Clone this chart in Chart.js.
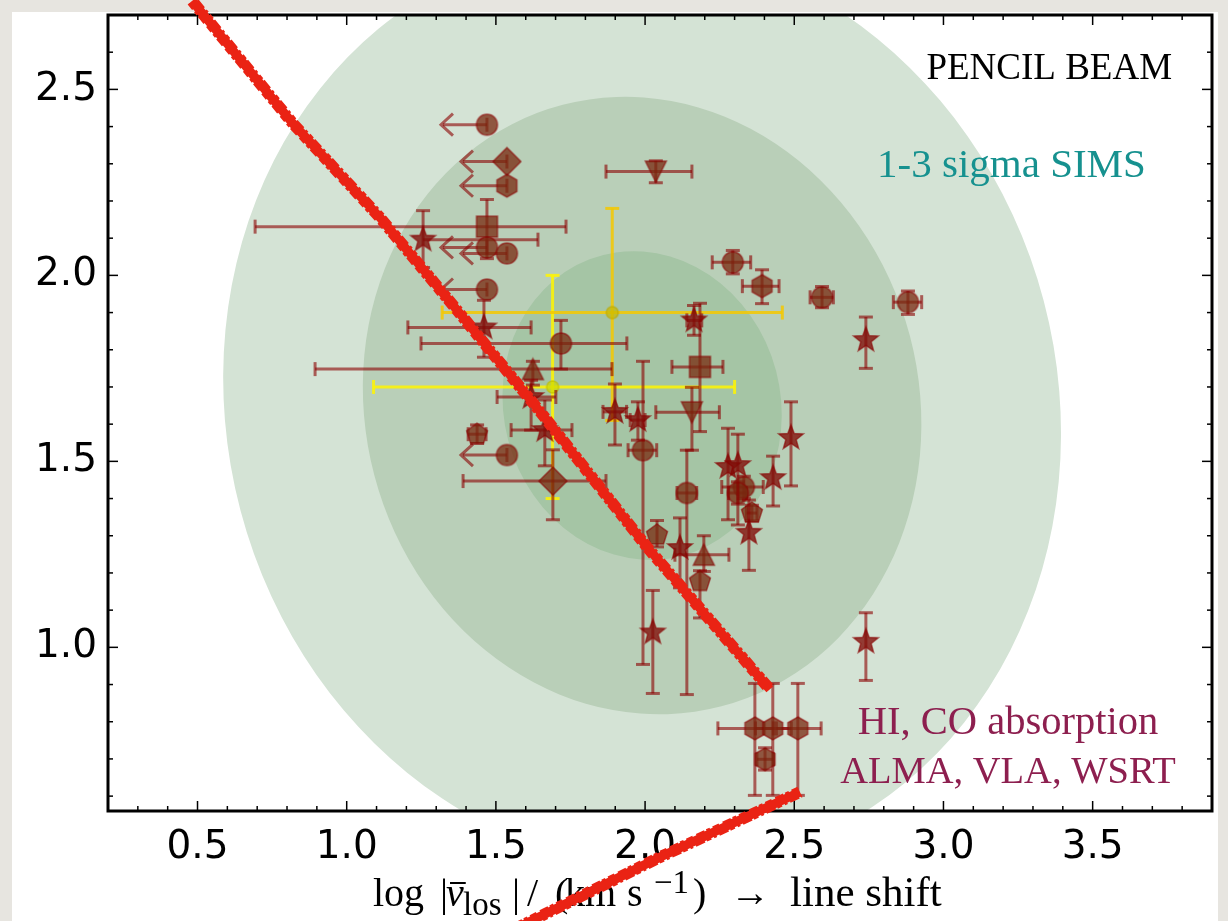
<!DOCTYPE html>
<html lang="en">
<head>
<meta charset="UTF-8">
<title>Pencil beam: line shift</title>
<script src="https://cdn.jsdelivr.net/npm/chart.js"></script>
<style>
    html, body { margin: 0; padding: 0; background: #e7e5e0; overflow: hidden; }
    #sheet { position: absolute; left: 12px; top: 12px; width: 1206px; height: 909px; background: #fff; }
    #plot { position: absolute; left: 0; top: 0; }
</style>
</head>
<body>
<div id="sheet"></div>
<canvas id="plot" width="1228" height="921"></canvas>
<script>
// axis ranges and tick labels
const xRange = [0.2, 3.9];
const yRange = [0.56, 2.7];
const xTicks = [0.5, 1.0, 1.5, 2.0, 2.5, 3.0, 3.5];
const yTicks = [1.0, 1.5, 2.0, 2.5];

// SIMS distribution: centre, sigma (x, y), correlation, contour levels
const simsCentre = [1.99, 1.65];
const simsSigma = [0.468, 0.415];
const simsRho = -0.06;
const simsLevels = [3, 2, 1];

// measurements: [x, y, xLow, xHigh, yLow, yHigh]  (null = no bar on that side)
const yellowPoints = [[1.69, 1.70, 1.09, 2.30, 1.40, 2.00]];
const goldPoints = [[1.89, 1.90, 1.32, 2.46, 1.61, 2.18]];

const squares = [
    [1.470, 2.131, 0.693, 1.735, 2.045, 2.204],
    [2.184, 1.754, 2.090, 2.261, 1.580, 1.925]
];
const circles = [
    [1.718, 1.817, 1.249, 1.939, 1.748, 1.879],
    [2.294, 2.035, 2.225, 2.354, 2.004, 2.067],
    [2.593, 1.941, 2.553, 2.631, 1.913, 1.970],
    [2.881, 1.928, 2.832, 2.927, 1.895, 1.958],
    [1.993, 1.530, 1.943, 2.039, 0.954, 1.769],
    [2.140, 1.415, 2.107, 2.173, 0.873, 1.530],
    [2.331, 1.431, 2.257, 2.396, 1.400, 1.460],
    [2.311, 1.415, 2.280, 2.340, 1.385, 1.445]
];
const diamonds = [[1.691, 1.447, 1.390, 1.869, 1.343, 1.531]];
const hexagons = [
    [2.392, 1.971, 2.326, 2.449, 1.924, 2.015],
    [2.368, 0.782, 2.244, 2.430, 0.602, 0.903],
    [2.428, 0.782, 2.370, 2.490, 0.602, 0.903],
    [2.512, 0.782, 2.440, 2.590, 0.602, 0.903],
    [2.402, 0.699, 2.375, 2.430, 0.670, 0.730]
];
const trianglesUp = [
    [1.624, 1.748, 0.894, 1.889, 1.705, 1.769],
    [2.197, 1.249, 2.100, 2.281, 1.204, 1.300]
];
const trianglesDown = [
    [2.036, 2.279, 1.869, 2.157, 2.249, 2.308],
    [2.157, 1.632, 2.036, 2.249, 1.530, 1.699]
];
const pentagons = [
    [1.437, 1.573, 1.407, 1.467, 1.548, 1.598],
    [2.040, 1.302, null, null, 1.270, 1.341],
    [2.184, 1.177, null, null, 1.079, 1.206],
    [2.358, 1.361, 2.340, 2.375, 1.340, 1.382]
];
const stars = [
    [1.256, 2.096, null, 1.641, 2.021, 2.174],
    [1.460, 1.860, 1.205, 1.618, 1.780, 1.933],
    [1.618, 1.673, 1.504, 1.701, 1.584, 1.718],
    [1.664, 1.584, 1.551, 1.755, 1.488, 1.665],
    [2.740, 1.826, null, null, 1.750, 1.888],
    [2.164, 1.879, 2.140, 2.190, 1.839, 1.919],
    [1.899, 1.633, 1.859, 1.938, 1.544, 1.708],
    [1.976, 1.611, 1.950, 2.000, 1.557, 1.660],
    [2.117, 1.267, null, null, 1.160, 1.348],
    [2.026, 1.040, null, null, 0.876, 1.153],
    [2.278, 1.485, null, null, 1.343, 1.589],
    [2.311, 1.490, null, null, 1.329, 1.573],
    [2.429, 1.455, null, null, 1.380, 1.514],
    [2.489, 1.563, null, null, 1.434, 1.660],
    [2.348, 1.308, null, null, 1.207, 1.396],
    [2.740, 1.015, null, null, 0.911, 1.093]
];

// upper limits on the shift: [x, y, arrow tip x]
const circleLimits = [
    [1.470, 2.405, 1.316],
    [1.470, 2.075, 1.316],
    [1.537, 2.059, 1.383],
    [1.470, 1.962, 1.316],
    [1.537, 1.517, 1.383]
];
const diamondLimits = [[1.537, 2.306, 1.383]];
const hexagonLimits = [[1.537, 2.241, 1.383]];

// hand-drawn strike marks (data units)
const strikeA = [[0.482, 2.738], [0.820, 2.408], [1.112, 2.155], [1.390, 1.887], [1.658, 1.624], [2.006, 1.270], [2.418, 0.887]];
const strikeB = [[2.519, 0.611], [2.050, 0.436], [1.564, 0.243]];

const RED = 'rgba(139,0,0,0.6)';
const BROWN = 'rgba(120,40,15,0.75)';
const CAP = 7;

function shapeCanvas(shape, r, fill, edge) {
    const s = Math.ceil(2 * r + 6);
    const c = document.createElement('canvas');
    c.width = s; c.height = s;
    const g = c.getContext('2d');
    g.translate(s / 2, s / 2);
    g.beginPath();
    const poly = (n, r1, r2) => {
        for (let i = 0; i < n; i++) {
            const a = -Math.PI / 2 + i * 2 * Math.PI / n;
            const rr = (r2 && i % 2) ? r2 : r1;
            if (i) g.lineTo(rr * Math.cos(a), rr * Math.sin(a));
            else g.moveTo(rr * Math.cos(a), rr * Math.sin(a));
        }
        g.closePath();
    };
    switch (shape) {
        case 'circle': g.arc(0, 0, r, 0, 2 * Math.PI); break;
        case 'square': g.rect(-r, -r, 2 * r, 2 * r); break;
        case 'diamond': poly(4, r); break;
        case 'triangle': g.moveTo(0, -r); g.lineTo(r, r); g.lineTo(-r, r); g.closePath(); break;
        case 'triangleDown': g.moveTo(0, r); g.lineTo(r, -r); g.lineTo(-r, -r); g.closePath(); break;
        case 'pentagon': poly(5, r); break;
        case 'hexagon': poly(6, r); break;
        case 'star': poly(10, r, r * 0.42); break;
    }
    g.fillStyle = fill; g.fill();
    g.lineWidth = 1.5; g.strokeStyle = edge; g.stroke();
    return c;
}

// draw order: first entry at the bottom
const groups = [
    { rows: yellowPoints, shape: 'circle', r: 6, fill: 'rgba(205,215,0,0.7)', edge: 'rgba(190,190,0,0.7)', bar: 'rgba(255,244,0,0.85)' },
    { rows: goldPoints, shape: 'circle', r: 6, fill: 'rgba(200,185,0,0.7)', edge: 'rgba(190,170,0,0.7)', bar: 'rgba(245,200,0,0.85)' },
    { rows: squares, shape: 'square', r: 10.5, fill: BROWN, edge: RED, bar: RED },
    { rows: circles, shape: 'circle', r: 10.5, fill: BROWN, edge: RED, bar: RED },
    { rows: diamonds, shape: 'diamond', r: 14, fill: BROWN, edge: RED, bar: RED },
    { rows: hexagons, shape: 'hexagon', r: 11.5, fill: BROWN, edge: RED, bar: RED },
    { rows: trianglesUp, shape: 'triangle', r: 10.5, fill: BROWN, edge: RED, bar: RED },
    { rows: trianglesDown, shape: 'triangleDown', r: 10.5, fill: BROWN, edge: RED, bar: RED },
    { rows: pentagons, shape: 'pentagon', r: 11, fill: BROWN, edge: RED, bar: RED },
    { rows: stars, shape: 'star', r: 13, fill: 'rgba(128,12,6,0.78)', edge: RED, bar: RED },
    { limits: circleLimits, shape: 'circle', r: 10.5, fill: BROWN, edge: RED, bar: RED },
    { limits: diamondLimits, shape: 'diamond', r: 14, fill: BROWN, edge: RED, bar: RED },
    { limits: hexagonLimits, shape: 'hexagon', r: 11.5, fill: BROWN, edge: RED, bar: RED }
];

const datasets = groups.map((g, i) => ({
    data: (g.rows || g.limits).map(r => ({ x: r[0], y: r[1] })),
    pointStyle: shapeCanvas(g.shape, g.r, g.fill, g.edge),
    pointRadius: g.r,
    showLine: false,
    order: 100 - i,
    errs: g.rows || null,
    limits: g.limits || null,
    barColour: g.bar
}));

function seg(ctx, x1, y1, x2, y2) {
    ctx.beginPath(); ctx.moveTo(x1, y1); ctx.lineTo(x2, y2); ctx.stroke();
}

const sims = {
    id: 'sims',
    beforeDatasetsDraw(chart) {
        const { ctx, chartArea: a, scales: { x, y } } = chart;
        const colours = ['#d4e3d5', '#b9cfb8', '#a5c5a5'];
        const sxx = simsSigma[0] ** 2, syy = simsSigma[1] ** 2;
        const sxy = simsRho * simsSigma[0] * simsSigma[1];
        const mid = (sxx + syy) / 2, d = Math.sqrt(((sxx - syy) / 2) ** 2 + sxy ** 2);
        const ang = 0.5 * Math.atan2(2 * sxy, sxx - syy);
        const cx = x.getPixelForValue(simsCentre[0]), cy = y.getPixelForValue(simsCentre[1]);
        const kx = x.getPixelForValue(simsCentre[0] + 1) - cx;
        const ky = y.getPixelForValue(simsCentre[1] + 1) - cy;
        ctx.save();
        ctx.beginPath(); ctx.rect(a.left, a.top, a.right - a.left, a.bottom - a.top); ctx.clip();
        simsLevels.forEach((n, i) => {
            ctx.save();
            ctx.translate(cx, cy);
            ctx.scale(kx, ky);
            ctx.beginPath();
            ctx.ellipse(0, 0, n * Math.sqrt(mid + d), n * Math.sqrt(mid - d), ang, 0, 2 * Math.PI);
            ctx.restore();
            ctx.fillStyle = colours[i];
            ctx.fill();
        });
        ctx.restore();
    }
};

const errorBars = {
    id: 'errorBars',
    beforeDatasetDraw(chart, args) {
        const ds = chart.data.datasets[args.index];
        const { ctx, chartArea: a, scales: { x, y } } = chart;
        ctx.save();
        ctx.beginPath(); ctx.rect(a.left, a.top, a.right - a.left, a.bottom - a.top); ctx.clip();
        ctx.strokeStyle = ds.barColour;
        ctx.lineWidth = 3;
        (ds.errs || []).forEach(([vx, vy, xl, xh, yl, yh]) => {
            const px = x.getPixelForValue(vx), py = y.getPixelForValue(vy);
            if (xl !== null || xh !== null) {
                const l = x.getPixelForValue(xl ?? vx), r = x.getPixelForValue(xh ?? vx);
                seg(ctx, l, py, r, py);
                if (xl !== null) seg(ctx, l, py - CAP, l, py + CAP);
                if (xh !== null) seg(ctx, r, py - CAP, r, py + CAP);
            }
            if (yl !== null || yh !== null) {
                const b = y.getPixelForValue(yl ?? vy), t = y.getPixelForValue(yh ?? vy);
                seg(ctx, px, b, px, t);
                if (yl !== null) seg(ctx, px - CAP, b, px + CAP, b);
                if (yh !== null) seg(ctx, px - CAP, t, px + CAP, t);
            }
        });
        (ds.limits || []).forEach(([vx, vy, tip]) => {
            const px = x.getPixelForValue(vx), py = y.getPixelForValue(vy);
            const tx = x.getPixelForValue(tip);
            seg(ctx, tx + 2, py, px, py);
            seg(ctx, px, py - CAP, px, py + CAP);
            ctx.beginPath();
            ctx.moveTo(tx + 12, py - 11); ctx.lineTo(tx, py); ctx.lineTo(tx + 12, py + 11);
            ctx.stroke();
        });
        ctx.restore();
    }
};

function roughStroke(ctx, pts) {
    const [x0, y0] = pts[0], [x1, y1] = pts[pts.length - 1];
    const len = Math.hypot(x1 - x0, y1 - y0);
    const nx = -(y1 - y0) / len, ny = (x1 - x0) / len;
    const path = off => {
        ctx.beginPath();
        pts.forEach(([px, py], i) => {
            const X = px + nx * off, Y = py + ny * off;
            if (i) ctx.lineTo(X, Y); else ctx.moveTo(X, Y);
        });
        ctx.stroke();
    };
    ctx.strokeStyle = '#ea2314';
    ctx.lineJoin = 'round';
    ctx.lineCap = 'butt';
    ctx.lineWidth = 9; ctx.setLineDash([]); path(0);
    ctx.lineWidth = 2.5;
    ctx.setLineDash([7, 3, 4, 2, 9, 4]); path(4.6);
    ctx.setLineDash([5, 2, 10, 3, 3, 3]); ctx.lineDashOffset = 4; path(-4.6);
    ctx.setLineDash([]); ctx.lineDashOffset = 0;
}

// x-axis title, typeset piece by piece: [text, x offset, font size, italic, baseline shift]
const xTitle = [
    ['log', 0, 40, false, 0],
    ['|', 67, 40, false, 0],
    ['v', 73, 40, true, 0],
    ['los', 90, 33, false, 9],
    ['|', 139, 40, false, 0],
    ['/', 154, 40, false, 0],
    ['(', 182, 40, false, 0],
    ['km', 192, 40, false, 0],
    ['s', 254, 40, false, 0],
    ['\u22121', 281, 33, false, -13],
    [')', 320, 40, false, 0],
    ['\u2192', 357, 40, false, 0],
    ['line shift', 417, 43, false, 0]
];

function drawXLabel(ctx, left, base) {
    ctx.fillStyle = '#000';
    ctx.textAlign = 'left';
    ctx.textBaseline = 'alphabetic';
    xTitle.forEach(([t, dx, size, italic, dy]) => {
        ctx.font = (italic ? 'italic ' : '') + size + 'px "Liberation Serif", serif';
        ctx.fillText(t, left + dx, base + dy);
        if (italic) {
            // bar over the v
            const w = ctx.measureText(t).width;
            ctx.fillRect(left + dx + 4, base - 24, w - 2, 2);
        }
    });
}

const frame = {
    id: 'frame',
    afterDraw(chart) {
        const { ctx, chartArea: a, scales: { x, y } } = chart;
        ctx.save();
        ctx.strokeStyle = '#000';
        // inward ticks on all four sides
        ctx.lineWidth = 1.5;
        for (let k = Math.ceil(xRange[0] * 10); k <= Math.floor(xRange[1] * 10); k++) {
            const px = x.getPixelForValue(k / 10), len = k % 5 === 0 ? 10 : 5;
            seg(ctx, px, a.bottom, px, a.bottom - len);
            seg(ctx, px, a.top, px, a.top + len);
        }
        for (let k = Math.ceil(yRange[0] * 10); k <= Math.floor(yRange[1] * 10); k++) {
            const py = y.getPixelForValue(k / 10), len = k % 5 === 0 ? 10 : 5;
            seg(ctx, a.left, py, a.left + len, py);
            seg(ctx, a.right, py, a.right - len, py);
        }
        ctx.lineWidth = 3;
        ctx.strokeRect(a.left, a.top, a.right - a.left, a.bottom - a.top);

        const w = a.right - a.left, h = a.bottom - a.top;
        ctx.textBaseline = 'alphabetic';
        ctx.fillStyle = '#000';
        ctx.font = '37px "Liberation Serif", serif';
        ctx.textAlign = 'right';
        ctx.fillText('PENCIL BEAM', a.left + 0.9638 * w, a.top + 0.0803 * h);

        ctx.fillStyle = '#16918f';
        ctx.font = '41px "Liberation Serif", serif';
        ctx.textAlign = 'left';
        ctx.fillText('1-3 sigma SIMS', a.left + 0.6966 * w, a.top + 0.2033 * h);

        ctx.fillStyle = '#8d1f4f';
        ctx.textAlign = 'center';
        ctx.font = '40.5px "Liberation Serif", serif';
        ctx.fillText('HI, CO absorption', a.left + 0.8152 * w, a.top + 0.9034 * h);
        ctx.font = '38.5px "Liberation Serif", serif';
        ctx.fillText('ALMA, VLA, WSRT', a.left + 0.8152 * w, a.top + 0.9649 * h);

        drawXLabel(ctx, 373, 906);

        roughStroke(ctx, strikeA.map(([vx, vy]) => [x.getPixelForValue(vx), y.getPixelForValue(vy)]));
        roughStroke(ctx, strikeB.map(([vx, vy]) => [x.getPixelForValue(vx), y.getPixelForValue(vy)]));
        ctx.restore();
    }
};

const tickFont = { family: 'DejaVu Sans', size: 39 };

// keep the plot box fixed: no extra room for half-height edge labels
function fixBox(s, size) {
    if (s.isHorizontal()) s.height = size; else s.width = size;
    s.paddingTop = 0; s.paddingBottom = 0; s.paddingLeft = 0; s.paddingRight = 0;
}

new Chart(document.getElementById('plot'), {
    type: 'scatter',
    data: { datasets },
    options: {
        responsive: false,
        animation: false,
        devicePixelRatio: 1,
        events: [],
        layout: { padding: { top: 14, right: 16, left: 0, bottom: 0 } },
        plugins: { legend: { display: false }, tooltip: { enabled: false } },
        scales: {
            x: {
                type: 'linear', min: xRange[0], max: xRange[1],
                grid: { display: false, drawTicks: false }, border: { display: false },
                afterBuildTicks: s => { s.ticks = xTicks.map(v => ({ value: v })); },
                afterFit: s => fixBox(s, 110),
                ticks: { font: tickFont, color: '#000', padding: 13, autoSkip: false, maxRotation: 0,
                         callback: v => v.toFixed(1) }
            },
            y: {
                type: 'linear', min: yRange[0], max: yRange[1],
                grid: { display: false, drawTicks: false }, border: { display: false },
                afterBuildTicks: s => { s.ticks = yTicks.map(v => ({ value: v })); },
                afterFit: s => fixBox(s, 108),
                ticks: { font: tickFont, color: '#000', padding: 11, autoSkip: false,
                         callback: v => v.toFixed(1) }
            }
        }
    },
    plugins: [sims, errorBars, frame]
});
</script>
</body>
</html>
